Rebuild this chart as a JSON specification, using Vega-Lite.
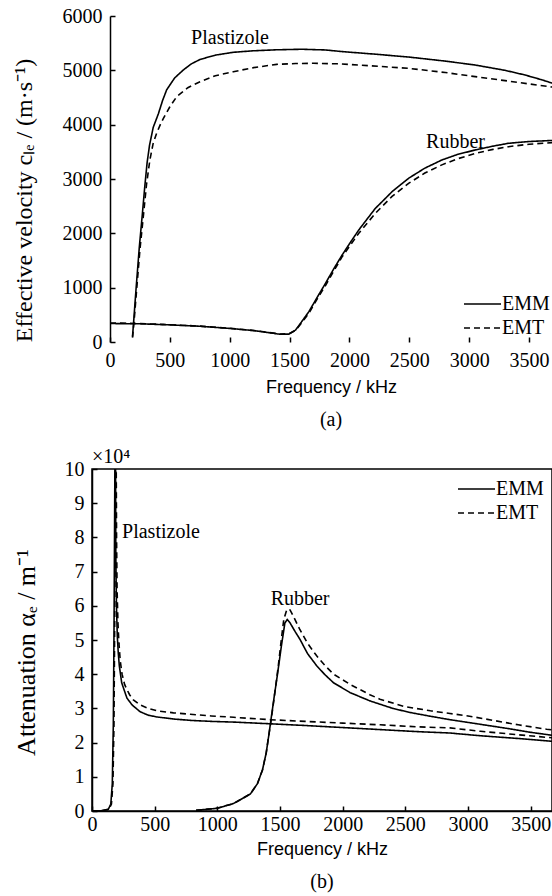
{
  "$schema": "https://vega.github.io/schema/vega-lite/v6.json",
  "background": "white",
  "padding": {"left": 12, "top": 6, "right": 0, "bottom": 0},
  "spacing": 16,
  "datasets": {
    "vel": [
      {"f": 188, "v": 100, "s": "Plastizole", "m": "EMM"},
      {"f": 200, "v": 450, "s": "Plastizole", "m": "EMM"},
      {"f": 220, "v": 1050, "s": "Plastizole", "m": "EMM"},
      {"f": 245, "v": 1750, "s": "Plastizole", "m": "EMM"},
      {"f": 270, "v": 2350, "s": "Plastizole", "m": "EMM"},
      {"f": 290, "v": 2850, "s": "Plastizole", "m": "EMM"},
      {"f": 310, "v": 3300, "s": "Plastizole", "m": "EMM"},
      {"f": 330, "v": 3620, "s": "Plastizole", "m": "EMM"},
      {"f": 361, "v": 3950, "s": "Plastizole", "m": "EMM"},
      {"f": 404, "v": 4200, "s": "Plastizole", "m": "EMM"},
      {"f": 440, "v": 4450, "s": "Plastizole", "m": "EMM"},
      {"f": 473, "v": 4640, "s": "Plastizole", "m": "EMM"},
      {"f": 540, "v": 4860, "s": "Plastizole", "m": "EMM"},
      {"f": 612, "v": 5006, "s": "Plastizole", "m": "EMM"},
      {"f": 680, "v": 5120, "s": "Plastizole", "m": "EMM"},
      {"f": 752, "v": 5200, "s": "Plastizole", "m": "EMM"},
      {"f": 880, "v": 5280, "s": "Plastizole", "m": "EMM"},
      {"f": 1030, "v": 5332, "s": "Plastizole", "m": "EMM"},
      {"f": 1200, "v": 5360, "s": "Plastizole", "m": "EMM"},
      {"f": 1392, "v": 5378, "s": "Plastizole", "m": "EMM"},
      {"f": 1600, "v": 5388, "s": "Plastizole", "m": "EMM"},
      {"f": 1800, "v": 5375, "s": "Plastizole", "m": "EMM"},
      {"f": 1939, "v": 5345, "s": "Plastizole", "m": "EMM"},
      {"f": 2200, "v": 5300, "s": "Plastizole", "m": "EMM"},
      {"f": 2494, "v": 5245, "s": "Plastizole", "m": "EMM"},
      {"f": 2800, "v": 5170, "s": "Plastizole", "m": "EMM"},
      {"f": 3050, "v": 5098, "s": "Plastizole", "m": "EMM"},
      {"f": 3300, "v": 5000, "s": "Plastizole", "m": "EMM"},
      {"f": 3467, "v": 4914, "s": "Plastizole", "m": "EMM"},
      {"f": 3600, "v": 4830, "s": "Plastizole", "m": "EMM"},
      {"f": 3700, "v": 4760, "s": "Plastizole", "m": "EMM"},

      {"f": 188, "v": 80, "s": "Plastizole", "m": "EMT"},
      {"f": 200, "v": 350, "s": "Plastizole", "m": "EMT"},
      {"f": 222, "v": 950, "s": "Plastizole", "m": "EMT"},
      {"f": 250, "v": 1700, "s": "Plastizole", "m": "EMT"},
      {"f": 278, "v": 2306, "s": "Plastizole", "m": "EMT"},
      {"f": 305, "v": 2900, "s": "Plastizole", "m": "EMT"},
      {"f": 333, "v": 3350, "s": "Plastizole", "m": "EMT"},
      {"f": 360, "v": 3650, "s": "Plastizole", "m": "EMT"},
      {"f": 389, "v": 3841, "s": "Plastizole", "m": "EMT"},
      {"f": 420, "v": 4000, "s": "Plastizole", "m": "EMT"},
      {"f": 446, "v": 4117, "s": "Plastizole", "m": "EMT"},
      {"f": 500, "v": 4330, "s": "Plastizole", "m": "EMT"},
      {"f": 557, "v": 4515, "s": "Plastizole", "m": "EMT"},
      {"f": 650, "v": 4680, "s": "Plastizole", "m": "EMT"},
      {"f": 752, "v": 4791, "s": "Plastizole", "m": "EMT"},
      {"f": 880, "v": 4900, "s": "Plastizole", "m": "EMT"},
      {"f": 1030, "v": 4975, "s": "Plastizole", "m": "EMT"},
      {"f": 1200, "v": 5050, "s": "Plastizole", "m": "EMT"},
      {"f": 1392, "v": 5110, "s": "Plastizole", "m": "EMT"},
      {"f": 1550, "v": 5125, "s": "Plastizole", "m": "EMT"},
      {"f": 1700, "v": 5130, "s": "Plastizole", "m": "EMT"},
      {"f": 1900, "v": 5120, "s": "Plastizole", "m": "EMT"},
      {"f": 2078, "v": 5098, "s": "Plastizole", "m": "EMT"},
      {"f": 2300, "v": 5065, "s": "Plastizole", "m": "EMT"},
      {"f": 2494, "v": 5037, "s": "Plastizole", "m": "EMT"},
      {"f": 2800, "v": 4960, "s": "Plastizole", "m": "EMT"},
      {"f": 3050, "v": 4884, "s": "Plastizole", "m": "EMT"},
      {"f": 3300, "v": 4810, "s": "Plastizole", "m": "EMT"},
      {"f": 3500, "v": 4750, "s": "Plastizole", "m": "EMT"},
      {"f": 3700, "v": 4690, "s": "Plastizole", "m": "EMT"},

      {"f": 0, "v": 340, "s": "Rubber", "m": "EMM"},
      {"f": 250, "v": 335, "s": "Rubber", "m": "EMM"},
      {"f": 500, "v": 315, "s": "Rubber", "m": "EMM"},
      {"f": 750, "v": 290, "s": "Rubber", "m": "EMM"},
      {"f": 1000, "v": 250, "s": "Rubber", "m": "EMM"},
      {"f": 1200, "v": 210, "s": "Rubber", "m": "EMM"},
      {"f": 1350, "v": 165, "s": "Rubber", "m": "EMM"},
      {"f": 1420, "v": 142, "s": "Rubber", "m": "EMM"},
      {"f": 1494, "v": 145, "s": "Rubber", "m": "EMM"},
      {"f": 1550, "v": 220, "s": "Rubber", "m": "EMM"},
      {"f": 1600, "v": 370, "s": "Rubber", "m": "EMM"},
      {"f": 1661, "v": 558, "s": "Rubber", "m": "EMM"},
      {"f": 1730, "v": 820, "s": "Rubber", "m": "EMM"},
      {"f": 1800, "v": 1080, "s": "Rubber", "m": "EMM"},
      {"f": 1870, "v": 1350, "s": "Rubber", "m": "EMM"},
      {"f": 1939, "v": 1601, "s": "Rubber", "m": "EMM"},
      {"f": 2010, "v": 1840, "s": "Rubber", "m": "EMM"},
      {"f": 2078, "v": 2062, "s": "Rubber", "m": "EMM"},
      {"f": 2150, "v": 2270, "s": "Rubber", "m": "EMM"},
      {"f": 2217, "v": 2461, "s": "Rubber", "m": "EMM"},
      {"f": 2290, "v": 2620, "s": "Rubber", "m": "EMM"},
      {"f": 2356, "v": 2767, "s": "Rubber", "m": "EMM"},
      {"f": 2430, "v": 2900, "s": "Rubber", "m": "EMM"},
      {"f": 2494, "v": 3013, "s": "Rubber", "m": "EMM"},
      {"f": 2630, "v": 3200, "s": "Rubber", "m": "EMM"},
      {"f": 2772, "v": 3350, "s": "Rubber", "m": "EMM"},
      {"f": 2900, "v": 3450, "s": "Rubber", "m": "EMM"},
      {"f": 3050, "v": 3534, "s": "Rubber", "m": "EMM"},
      {"f": 3200, "v": 3605, "s": "Rubber", "m": "EMM"},
      {"f": 3328, "v": 3657, "s": "Rubber", "m": "EMM"},
      {"f": 3500, "v": 3690, "s": "Rubber", "m": "EMM"},
      {"f": 3700, "v": 3710, "s": "Rubber", "m": "EMM"},

      {"f": 0, "v": 350, "s": "Rubber", "m": "EMT"},
      {"f": 250, "v": 340, "s": "Rubber", "m": "EMT"},
      {"f": 500, "v": 318, "s": "Rubber", "m": "EMT"},
      {"f": 750, "v": 292, "s": "Rubber", "m": "EMT"},
      {"f": 1000, "v": 252, "s": "Rubber", "m": "EMT"},
      {"f": 1200, "v": 212, "s": "Rubber", "m": "EMT"},
      {"f": 1350, "v": 168, "s": "Rubber", "m": "EMT"},
      {"f": 1420, "v": 148, "s": "Rubber", "m": "EMT"},
      {"f": 1494, "v": 150, "s": "Rubber", "m": "EMT"},
      {"f": 1550, "v": 215, "s": "Rubber", "m": "EMT"},
      {"f": 1600, "v": 350, "s": "Rubber", "m": "EMT"},
      {"f": 1661, "v": 530, "s": "Rubber", "m": "EMT"},
      {"f": 1730, "v": 790, "s": "Rubber", "m": "EMT"},
      {"f": 1800, "v": 1040, "s": "Rubber", "m": "EMT"},
      {"f": 1870, "v": 1310, "s": "Rubber", "m": "EMT"},
      {"f": 1939, "v": 1570, "s": "Rubber", "m": "EMT"},
      {"f": 2078, "v": 2000, "s": "Rubber", "m": "EMT"},
      {"f": 2217, "v": 2370, "s": "Rubber", "m": "EMT"},
      {"f": 2356, "v": 2680, "s": "Rubber", "m": "EMT"},
      {"f": 2494, "v": 2920, "s": "Rubber", "m": "EMT"},
      {"f": 2630, "v": 3110, "s": "Rubber", "m": "EMT"},
      {"f": 2772, "v": 3260, "s": "Rubber", "m": "EMT"},
      {"f": 2900, "v": 3370, "s": "Rubber", "m": "EMT"},
      {"f": 3050, "v": 3470, "s": "Rubber", "m": "EMT"},
      {"f": 3200, "v": 3545, "s": "Rubber", "m": "EMT"},
      {"f": 3328, "v": 3595, "s": "Rubber", "m": "EMT"},
      {"f": 3500, "v": 3640, "s": "Rubber", "m": "EMT"},
      {"f": 3700, "v": 3670, "s": "Rubber", "m": "EMT"}
    ],
    "att": [
      {"f": 0, "v": 0, "s": "Plastizole", "m": "EMM"},
      {"f": 80, "v": 0.01, "s": "Plastizole", "m": "EMM"},
      {"f": 130, "v": 0.05, "s": "Plastizole", "m": "EMM"},
      {"f": 150, "v": 0.2, "s": "Plastizole", "m": "EMM"},
      {"f": 162, "v": 0.8, "s": "Plastizole", "m": "EMM"},
      {"f": 170, "v": 2.5, "s": "Plastizole", "m": "EMM"},
      {"f": 176, "v": 5.5, "s": "Plastizole", "m": "EMM"},
      {"f": 181, "v": 9, "s": "Plastizole", "m": "EMM"},
      {"f": 184, "v": 11, "s": "Plastizole", "m": "EMM"},
      {"f": 187, "v": 11, "s": "Plastizole", "m": "EMM"},
      {"f": 190, "v": 7.5, "s": "Plastizole", "m": "EMM"},
      {"f": 195, "v": 6.0, "s": "Plastizole", "m": "EMM"},
      {"f": 202, "v": 5.1, "s": "Plastizole", "m": "EMM"},
      {"f": 210, "v": 4.6, "s": "Plastizole", "m": "EMM"},
      {"f": 218, "v": 4.24, "s": "Plastizole", "m": "EMM"},
      {"f": 237, "v": 3.75, "s": "Plastizole", "m": "EMM"},
      {"f": 260, "v": 3.5, "s": "Plastizole", "m": "EMM"},
      {"f": 279, "v": 3.3, "s": "Plastizole", "m": "EMM"},
      {"f": 320, "v": 3.1, "s": "Plastizole", "m": "EMM"},
      {"f": 385, "v": 2.9, "s": "Plastizole", "m": "EMM"},
      {"f": 450, "v": 2.8, "s": "Plastizole", "m": "EMM"},
      {"f": 518, "v": 2.75, "s": "Plastizole", "m": "EMM"},
      {"f": 650, "v": 2.69, "s": "Plastizole", "m": "EMM"},
      {"f": 784, "v": 2.65, "s": "Plastizole", "m": "EMM"},
      {"f": 950, "v": 2.62, "s": "Plastizole", "m": "EMM"},
      {"f": 1130, "v": 2.6, "s": "Plastizole", "m": "EMM"},
      {"f": 1422, "v": 2.55, "s": "Plastizole", "m": "EMM"},
      {"f": 1700, "v": 2.5, "s": "Plastizole", "m": "EMM"},
      {"f": 2000, "v": 2.44, "s": "Plastizole", "m": "EMM"},
      {"f": 2300, "v": 2.38, "s": "Plastizole", "m": "EMM"},
      {"f": 2600, "v": 2.32, "s": "Plastizole", "m": "EMM"},
      {"f": 2856, "v": 2.28, "s": "Plastizole", "m": "EMM"},
      {"f": 3100, "v": 2.2, "s": "Plastizole", "m": "EMM"},
      {"f": 3400, "v": 2.12, "s": "Plastizole", "m": "EMM"},
      {"f": 3700, "v": 2.03, "s": "Plastizole", "m": "EMM"},

      {"f": 0, "v": 0, "s": "Plastizole", "m": "EMT"},
      {"f": 80, "v": 0.01, "s": "Plastizole", "m": "EMT"},
      {"f": 135, "v": 0.05, "s": "Plastizole", "m": "EMT"},
      {"f": 155, "v": 0.2, "s": "Plastizole", "m": "EMT"},
      {"f": 167, "v": 0.8, "s": "Plastizole", "m": "EMT"},
      {"f": 175, "v": 2.5, "s": "Plastizole", "m": "EMT"},
      {"f": 181, "v": 5.5, "s": "Plastizole", "m": "EMT"},
      {"f": 186, "v": 9, "s": "Plastizole", "m": "EMT"},
      {"f": 189, "v": 11, "s": "Plastizole", "m": "EMT"},
      {"f": 192, "v": 11, "s": "Plastizole", "m": "EMT"},
      {"f": 196, "v": 8, "s": "Plastizole", "m": "EMT"},
      {"f": 200, "v": 6.5, "s": "Plastizole", "m": "EMT"},
      {"f": 207, "v": 5.5, "s": "Plastizole", "m": "EMT"},
      {"f": 215, "v": 4.9, "s": "Plastizole", "m": "EMT"},
      {"f": 225, "v": 4.4, "s": "Plastizole", "m": "EMT"},
      {"f": 240, "v": 4.0, "s": "Plastizole", "m": "EMT"},
      {"f": 260, "v": 3.7, "s": "Plastizole", "m": "EMT"},
      {"f": 279, "v": 3.55, "s": "Plastizole", "m": "EMT"},
      {"f": 300, "v": 3.4, "s": "Plastizole", "m": "EMT"},
      {"f": 330, "v": 3.25, "s": "Plastizole", "m": "EMT"},
      {"f": 385, "v": 3.1, "s": "Plastizole", "m": "EMT"},
      {"f": 450, "v": 3.0, "s": "Plastizole", "m": "EMT"},
      {"f": 518, "v": 2.93, "s": "Plastizole", "m": "EMT"},
      {"f": 650, "v": 2.87, "s": "Plastizole", "m": "EMT"},
      {"f": 784, "v": 2.83, "s": "Plastizole", "m": "EMT"},
      {"f": 950, "v": 2.78, "s": "Plastizole", "m": "EMT"},
      {"f": 1130, "v": 2.74, "s": "Plastizole", "m": "EMT"},
      {"f": 1422, "v": 2.67, "s": "Plastizole", "m": "EMT"},
      {"f": 1700, "v": 2.62, "s": "Plastizole", "m": "EMT"},
      {"f": 2000, "v": 2.57, "s": "Plastizole", "m": "EMT"},
      {"f": 2300, "v": 2.52, "s": "Plastizole", "m": "EMT"},
      {"f": 2600, "v": 2.46, "s": "Plastizole", "m": "EMT"},
      {"f": 2856, "v": 2.43, "s": "Plastizole", "m": "EMT"},
      {"f": 3100, "v": 2.33, "s": "Plastizole", "m": "EMT"},
      {"f": 3400, "v": 2.23, "s": "Plastizole", "m": "EMT"},
      {"f": 3700, "v": 2.13, "s": "Plastizole", "m": "EMT"},

      {"f": 830, "v": 0.02, "s": "Rubber", "m": "EMM"},
      {"f": 1000, "v": 0.08, "s": "Rubber", "m": "EMM"},
      {"f": 1130, "v": 0.22, "s": "Rubber", "m": "EMM"},
      {"f": 1264, "v": 0.5, "s": "Rubber", "m": "EMM"},
      {"f": 1320, "v": 0.8, "s": "Rubber", "m": "EMM"},
      {"f": 1360, "v": 1.2, "s": "Rubber", "m": "EMM"},
      {"f": 1390, "v": 1.7, "s": "Rubber", "m": "EMM"},
      {"f": 1410, "v": 2.2, "s": "Rubber", "m": "EMM"},
      {"f": 1421, "v": 2.49, "s": "Rubber", "m": "EMM"},
      {"f": 1450, "v": 3.25, "s": "Rubber", "m": "EMM"},
      {"f": 1480, "v": 4.0, "s": "Rubber", "m": "EMM"},
      {"f": 1510, "v": 4.8, "s": "Rubber", "m": "EMM"},
      {"f": 1539, "v": 5.5, "s": "Rubber", "m": "EMM"},
      {"f": 1558, "v": 5.6, "s": "Rubber", "m": "EMM"},
      {"f": 1580, "v": 5.5, "s": "Rubber", "m": "EMM"},
      {"f": 1620, "v": 5.25, "s": "Rubber", "m": "EMM"},
      {"f": 1659, "v": 5.02, "s": "Rubber", "m": "EMM"},
      {"f": 1720, "v": 4.6, "s": "Rubber", "m": "EMM"},
      {"f": 1794, "v": 4.24, "s": "Rubber", "m": "EMM"},
      {"f": 1860, "v": 3.98, "s": "Rubber", "m": "EMM"},
      {"f": 1927, "v": 3.75, "s": "Rubber", "m": "EMM"},
      {"f": 2060, "v": 3.46, "s": "Rubber", "m": "EMM"},
      {"f": 2217, "v": 3.22, "s": "Rubber", "m": "EMM"},
      {"f": 2400, "v": 3.0, "s": "Rubber", "m": "EMM"},
      {"f": 2538, "v": 2.88, "s": "Rubber", "m": "EMM"},
      {"f": 2700, "v": 2.77, "s": "Rubber", "m": "EMM"},
      {"f": 2856, "v": 2.67, "s": "Rubber", "m": "EMM"},
      {"f": 3072, "v": 2.55, "s": "Rubber", "m": "EMM"},
      {"f": 3338, "v": 2.4, "s": "Rubber", "m": "EMM"},
      {"f": 3500, "v": 2.3, "s": "Rubber", "m": "EMM"},
      {"f": 3700, "v": 2.2, "s": "Rubber", "m": "EMM"},

      {"f": 830, "v": 0.02, "s": "Rubber", "m": "EMT"},
      {"f": 1000, "v": 0.08, "s": "Rubber", "m": "EMT"},
      {"f": 1130, "v": 0.22, "s": "Rubber", "m": "EMT"},
      {"f": 1264, "v": 0.5, "s": "Rubber", "m": "EMT"},
      {"f": 1320, "v": 0.8, "s": "Rubber", "m": "EMT"},
      {"f": 1360, "v": 1.2, "s": "Rubber", "m": "EMT"},
      {"f": 1390, "v": 1.7, "s": "Rubber", "m": "EMT"},
      {"f": 1410, "v": 2.2, "s": "Rubber", "m": "EMT"},
      {"f": 1425, "v": 2.55, "s": "Rubber", "m": "EMT"},
      {"f": 1455, "v": 3.35, "s": "Rubber", "m": "EMT"},
      {"f": 1485, "v": 4.2, "s": "Rubber", "m": "EMT"},
      {"f": 1510, "v": 5.0, "s": "Rubber", "m": "EMT"},
      {"f": 1530, "v": 5.6, "s": "Rubber", "m": "EMT"},
      {"f": 1555, "v": 5.9, "s": "Rubber", "m": "EMT"},
      {"f": 1580, "v": 5.88, "s": "Rubber", "m": "EMT"},
      {"f": 1606, "v": 5.7, "s": "Rubber", "m": "EMT"},
      {"f": 1659, "v": 5.3, "s": "Rubber", "m": "EMT"},
      {"f": 1720, "v": 4.9, "s": "Rubber", "m": "EMT"},
      {"f": 1794, "v": 4.53, "s": "Rubber", "m": "EMT"},
      {"f": 1860, "v": 4.25, "s": "Rubber", "m": "EMT"},
      {"f": 1927, "v": 4.0, "s": "Rubber", "m": "EMT"},
      {"f": 2060, "v": 3.7, "s": "Rubber", "m": "EMT"},
      {"f": 2217, "v": 3.4, "s": "Rubber", "m": "EMT"},
      {"f": 2297, "v": 3.27, "s": "Rubber", "m": "EMT"},
      {"f": 2485, "v": 3.06, "s": "Rubber", "m": "EMT"},
      {"f": 2700, "v": 2.93, "s": "Rubber", "m": "EMT"},
      {"f": 2856, "v": 2.85, "s": "Rubber", "m": "EMT"},
      {"f": 3000, "v": 2.78, "s": "Rubber", "m": "EMT"},
      {"f": 3200, "v": 2.65, "s": "Rubber", "m": "EMT"},
      {"f": 3400, "v": 2.52, "s": "Rubber", "m": "EMT"},
      {"f": 3627, "v": 2.39, "s": "Rubber", "m": "EMT"},
      {"f": 3700, "v": 2.36, "s": "Rubber", "m": "EMT"}
    ],
    "vlab": [
      {"f": 1002, "v": 5595, "t": "Plastizole"},
      {"f": 2886, "v": 3687, "t": "Rubber"}
    ],
    "alab": [
      {"f": 550, "v": 8.16, "t": "Plastizole"},
      {"f": 1660, "v": 6.19, "t": "Rubber"}
    ],
    "scale": [
      {"f": 0, "v": 10, "t": "×10⁴"}
    ]
  },
  "vconcat": [
    {
      "width": 460,
      "height": 326,
      "view": {"stroke": null},
      "title": {"text": "(a)", "orient": "bottom", "anchor": "middle", "font": "Liberation Serif", "fontSize": 20, "fontWeight": "normal", "color": "black", "offset": 14, "dx": 9},
      "layer": [
        {
          "data": {"name": "vel"},
          "mark": {"type": "line", "clip": true, "strokeWidth": 1.6, "color": "black"},
          "encoding": {
            "x": {"field": "f", "type": "quantitative", "scale": {"domain": [-150.4, 3692], "nice": false, "zero": false},
                  "axis": {"values": [0, 500, 1000, 1500, 2000, 2500, 3000, 3500], "tickCount": 12, "format": "d", "title": "Frequency / kHz", "domain": false, "titleX": 239, "labelOverlap": false}},
            "y": {"field": "v", "type": "quantitative", "scale": {"domain": [0, 6000], "nice": false},
                  "axis": {"values": [0, 1000, 2000, 3000, 4000, 5000, 6000], "tickCount": 10, "format": "d", "title": "Effective velocity cₗₑ / (m·s⁻¹)", "titleFontSize": 24, "offset": -18, "titlePadding": 26, "titleY": 184, "labelOverlap": false}},
            "detail": {"field": "s", "type": "nominal"},
            "strokeDash": {"field": "m", "type": "nominal", "scale": {"domain": ["EMM", "EMT"], "range": [[1, 0], [6, 4]]},
                           "legend": {"orient": "bottom-right", "offset": 2}}
          }
        },
        {
          "mark": {"type": "rule", "strokeWidth": 1.5, "color": "black"},
          "encoding": {"x": {"datum": 0}, "x2": {"datum": 3692}, "y": {"datum": 6000}}
        },
        {
          "mark": {"type": "rule", "strokeWidth": 1.5, "color": "black"},
          "encoding": {"x": {"datum": 0}, "x2": {"datum": 3692}, "y": {"datum": 0}}
        },
        {
          "data": {"name": "vlab"},
          "mark": {"type": "text", "font": "Liberation Serif", "fontSize": 20, "color": "black"},
          "encoding": {
            "x": {"field": "f", "type": "quantitative"},
            "y": {"field": "v", "type": "quantitative"},
            "text": {"field": "t"}
          }
        }
      ]
    },
    {
      "width": 460,
      "height": 342,
      "title": {"text": "(b)", "orient": "bottom", "anchor": "middle", "font": "Liberation Serif", "fontSize": 20, "fontWeight": "normal", "color": "black", "offset": 14},
      "layer": [
        {
          "data": {"name": "att"},
          "mark": {"type": "line", "clip": true, "strokeWidth": 1.6, "color": "black"},
          "encoding": {
            "x": {"field": "f", "type": "quantitative", "scale": {"domain": [0, 3670], "nice": false, "zero": false},
                  "axis": {"values": [0, 500, 1000, 1500, 2000, 2500, 3000, 3500], "tickCount": 12, "format": "d", "title": "Frequency / kHz", "labelPadding": 8, "titlePadding": 6, "labelOverlap": false}},
            "y": {"field": "v", "type": "quantitative", "scale": {"domain": [0, 10], "nice": false},
                  "axis": {"tickCount": 12, "values": [0, 1, 2, 3, 4, 5, 6, 7, 8, 9, 10], "format": "d", "title": "Attenuation αₑ / m⁻¹", "titleFontSize": 26, "titlePadding": 25, "titleY": 183, "labelOverlap": false}},
            "detail": {"field": "s", "type": "nominal"},
            "strokeDash": {"field": "m", "type": "nominal", "scale": {"domain": ["EMM", "EMT"], "range": [[1, 0], [6, 4]]},
                           "legend": {"orient": "top-right", "offset": 8}}
          }
        },
        {
          "data": {"name": "alab"},
          "mark": {"type": "text", "font": "Liberation Serif", "fontSize": 20, "color": "black"},
          "encoding": {
            "x": {"field": "f", "type": "quantitative"},
            "y": {"field": "v", "type": "quantitative"},
            "text": {"field": "t"}
          }
        },
        {
          "data": {"name": "scale"},
          "mark": {"type": "text", "font": "Liberation Serif", "fontSize": 20, "color": "black", "align": "left", "baseline": "bottom", "dx": 0, "dy": -2},
          "encoding": {
            "x": {"field": "f", "type": "quantitative"},
            "y": {"field": "v", "type": "quantitative"},
            "text": {"field": "t"}
          }
        }
      ]
    }
  ],
  "resolve": {"legend": {"strokeDash": "independent"}, "scale": {"x": "independent", "y": "independent", "strokeDash": "independent"}},
  "config": {
    "font": "Liberation Serif",
    "view": {"stroke": "black", "strokeWidth": 1.5},
    "axis": {
      "grid": false,
      "domainColor": "black",
      "domainWidth": 1.5,
      "tickColor": "black",
      "tickWidth": 1.5,
      "tickSize": -5,
      "labelFont": "Liberation Serif",
      "labelFontSize": 20,
      "labelColor": "black",
      "labelPadding": 13,
      "labelFlush": false,
      "labelOverlap": false,
      "titleFont": "Liberation Serif",
      "titleFontWeight": "normal",
      "titleColor": "black"
    },
    "axisX": {"titleFont": "Liberation Sans", "titleFontSize": 18, "titlePadding": 8},
    "legend": {
      "title": null,
      "symbolType": "stroke",
      "symbolSize": 1369,
      "symbolStrokeWidth": 1.6,
      "symbolStrokeColor": "black",
      "labelFont": "Liberation Serif",
      "labelFontSize": 20,
      "labelColor": "black",
      "labelOffset": 0,
      "rowPadding": 0,
      "clipHeight": 24,
      "padding": 0
    }
  }
}
